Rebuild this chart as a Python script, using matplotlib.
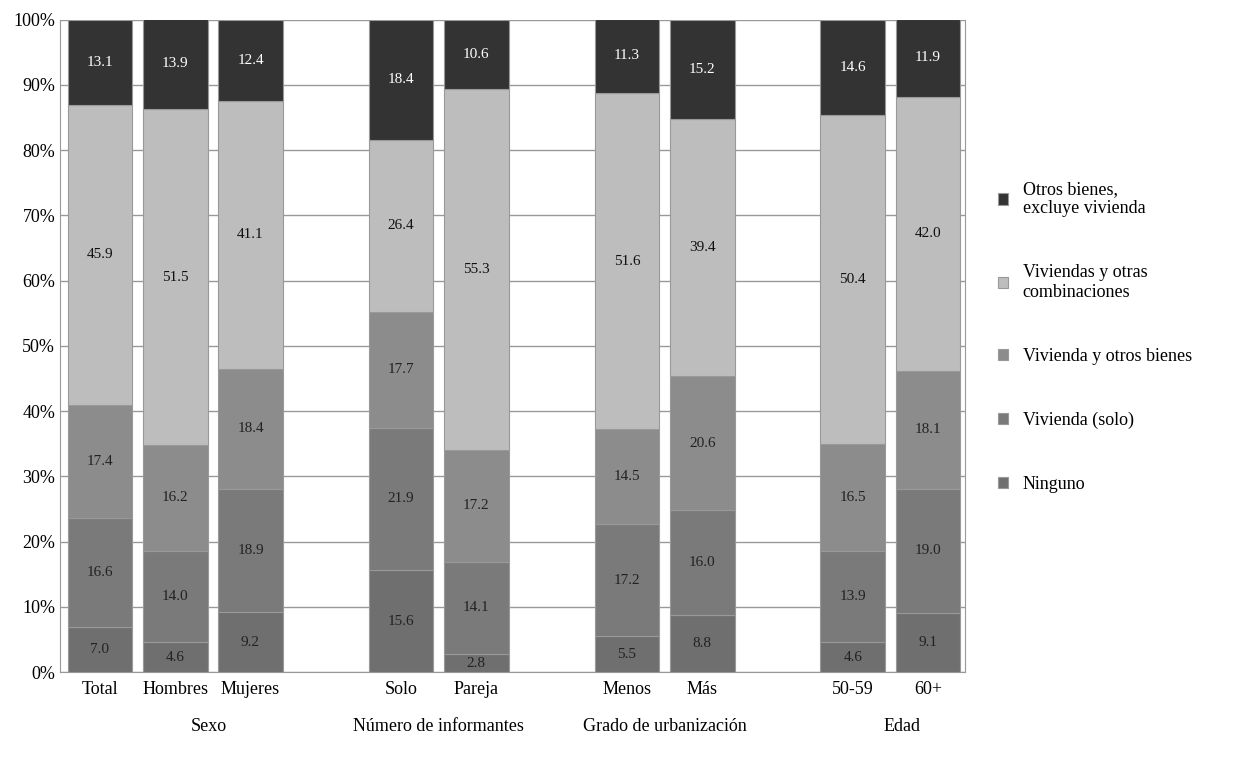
import matplotlib.pyplot as plt
import numpy as np

categories = ["Total", "Hombres", "Mujeres", "Solo", "Pareja", "Menos", "Más", "50-59", "60+"]
slots = [0, 1, 2, 4, 5, 7, 8, 10, 11]
groups = ["Sexo", "Número de informantes", "Grado de urbanización", "Edad"]
group_pos = [1.45, 4.5, 7.5, 10.65]

series = ["Ninguno", "Vivienda (solo)", "Vivienda y otros bienes",
          "Viviendas y otras\ncombinaciones", "Otros bienes,\nexcluye vivienda"]
ninguno = [7.0, 4.6, 9.2, 15.6, 2.8, 5.5, 8.8, 4.6, 9.1]
vivienda_solo = [16.6, 14.0, 18.9, 21.9, 14.1, 17.2, 16.0, 13.9, 19.0]
vivienda_otros = [17.4, 16.2, 18.4, 17.7, 17.2, 14.5, 20.6, 16.5, 18.1]
viviendas_comb = [45.9, 51.5, 41.1, 26.4, 55.3, 51.6, 39.4, 50.4, 42.0]
otros_bienes = [13.1, 13.9, 12.4, 18.4, 10.6, 11.3, 15.2, 14.6, 11.9]
values = [ninguno, vivienda_solo, vivienda_otros, viviendas_comb, otros_bienes]
colors = ["#6f6f6f", "#7a7a7a", "#8c8c8c", "#bdbdbd", "#333333"]
text_colors = ["#222222", "#222222", "#222222", "#111111", "white"]

plt.rcParams["font.family"] = "Liberation Serif"
fig = plt.figure(figsize=(12.5, 7.57), dpi=100)
ax = fig.add_axes([0.048, 0.112, 0.724, 0.862])

bottom = np.zeros(len(categories))
handles = []
for vals, c, tc, name in zip(values, colors, text_colors, series):
    vals = np.array(vals)
    b = ax.bar(slots, vals, bottom=bottom, width=0.86, color=c,
               edgecolor="#999999", linewidth=0.8, label=name, zorder=3)
    handles.append(b)
    for x, v, y0 in zip(slots, vals, bottom):
        ax.text(x, y0 + v / 2, f"{v:.1f}", ha="center", va="center",
                fontsize=11, color=tc, zorder=4)
    bottom += vals

ax.set_xlim(-0.53, 11.49)
ax.set_ylim(0, 100)
ax.set_yticks(np.arange(0, 101, 10))
ax.set_yticklabels([f"{t}%" for t in range(0, 101, 10)], fontsize=13)
ax.yaxis.grid(True, color="#999999", linewidth=1, zorder=0)
ax.set_xticks(slots)
ax.set_xticklabels(categories, fontsize=13)
ax.tick_params(axis="x", length=0, pad=6)
ax.tick_params(axis="y", length=0)
for s in ["top"]:
    ax.spines[s].set_visible(False)
for s in ["left", "right", "bottom"]:
    ax.spines[s].set_color("#999999")
for g, p in zip(groups, group_pos):
    ax.text(p, -7, g, ha="center", va="top", fontsize=13,
            transform=ax.transData)

leg = fig.legend(handles[::-1], series[::-1], loc="center left",
                 bbox_to_anchor=(0.785, 0.555), frameon=False, fontsize=13,
                 labelspacing=2.6, handlelength=0.6, handleheight=0.6)
plt.savefig("out.png", dpi=100)
